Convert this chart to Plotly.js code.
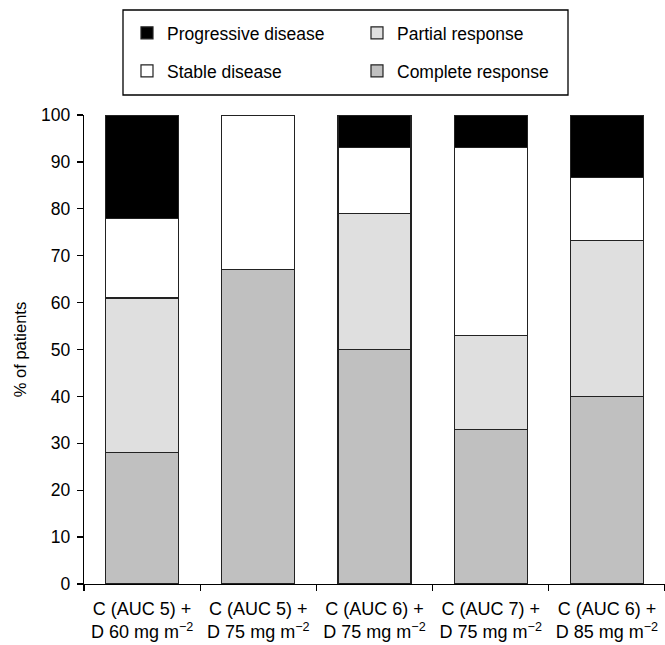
<!DOCTYPE html>
<html>
<head>
<meta charset="utf-8">
<script src="https://cdn.plot.ly/plotly-3.0.1.min.js"></script>
<style>html,body{margin:0;padding:0;background:#fff;}#chart{width:665px;height:645px;}</style>
</head>
<body>
<div id="chart"></div>
<script>
var categories = [
  "C (AUC 5) +<br>D 60 mg m<sup>\u22122</sup>",
  "C (AUC 5) +<br>D 75 mg m<sup>\u22122</sup>",
  "C (AUC 6) +<br>D 75 mg m<sup>\u22122</sup>",
  "C (AUC 7) +<br>D 75 mg m<sup>\u22122</sup>",
  "C (AUC 6) +<br>D 85 mg m<sup>\u22122</sup>"
];
var completeResponse = [28, 67, 50, 33, 40];
var partialResponse = [33, 0, 29, 20, 33.3];
var stableDisease = [17, 33, 14, 40, 13.3];
var progressiveDisease = [22, 0, 7, 7, 13.4];
var yTicks = [0, 10, 20, 30, 40, 50, 60, 70, 80, 90, 100];

var FONT = "Liberation Sans, Arial, sans-serif";
var outline = {color: "#222", width: 1.2};

function barTrace(name, vals, color, legendId, rank) {
  return {
    type: "bar", name: name, x: categories, y: vals,
    marker: {color: color, line: outline},
    width: 0.627, legend: legendId, legendrank: rank,
    hoverinfo: "skip"
  };
}

var data = [
  barTrace("Complete response", completeResponse, "#c0c0c0", "legend2", 4),
  barTrace("Partial response", partialResponse, "#dfdfdf", "legend", 2),
  barTrace("Stable disease", stableDisease, "#ffffff", "legend2", 3),
  barTrace("Progressive disease", progressiveDisease, "#000000", "legend", 1)
];

var legendCommon = {
  orientation: "h", xref: "paper", yref: "paper",
  xanchor: "left", yanchor: "middle", traceorder: "normal",
  entrywidth: 185, entrywidthmode: "pixels",
  font: {family: FONT, size: 17.5, color: "#000"},
  bgcolor: "rgba(0,0,0,0)", borderwidth: 0, itemwidth: 30
};

var layout = {
  width: 665, height: 645,
  margin: {l: 84, r: 0, t: 115, b: 61},
  paper_bgcolor: "#fff", plot_bgcolor: "#fff",
  barmode: "stack",
  showlegend: true,
  font: {family: FONT, color: "#000"},
  legend: Object.assign({}, legendCommon, {x: 0.0740, y: (584 - 33) / 469}),
  legend2: Object.assign({}, legendCommon, {x: 0.0740, y: (584 - 71) / 469}),
  xaxis: {
    type: "category",
    range: [-0.5, 4.5],
    showline: true, linecolor: "#000", linewidth: 1.3,
    ticks: "outside", tickson: "boundaries", ticklen: 6, tickcolor: "#000", tickwidth: 1.3,
    tickfont: {family: FONT, size: 18, color: "#000"}, ticklabelstandoff: 8,
    showgrid: false, zeroline: false, fixedrange: true
  },
  yaxis: {
    range: [0, 100],
    tickvals: yTicks,
    showline: true, linecolor: "#000", linewidth: 1.3,
    ticks: "outside", ticklen: 6, tickcolor: "#000", tickwidth: 1.3,
    tickfont: {family: FONT, size: 17.5, color: "#000"}, ticklabelstandoff: 3,
    showgrid: false, zeroline: false, fixedrange: true,
    title: {text: "% of patients", font: {family: FONT, size: 16.5, color: "#000"}, standoff: 10}
  },
  shapes: [{
    type: "rect", xref: "paper", yref: "paper", layer: "above",
    x0: (123 - 84) / 581, x1: (568 - 84) / 581,
    y0: (584 - 95) / 469, y1: (584 - 10) / 469,
    line: {color: "#000", width: 1.3}, fillcolor: "rgba(0,0,0,0)"
  }]
};

Plotly.newPlot("chart", data, layout, {displayModeBar: false, staticPlot: true});
</script>
</body>
</html>
